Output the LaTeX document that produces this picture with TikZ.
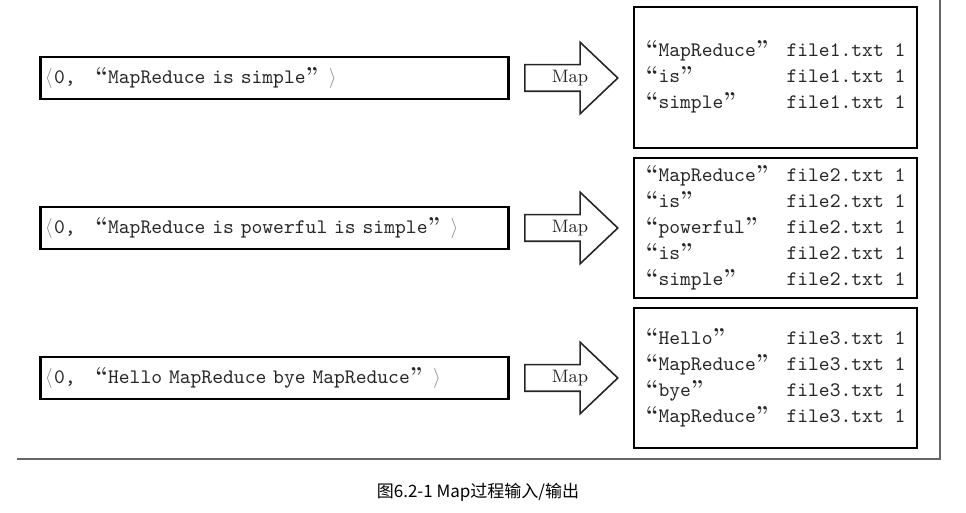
\documentclass[tikz,border=0pt]{standalone}
\usepackage{fontspec}
\setmonofont{Latin Modern Mono}
\newfontfamily\cjk{Noto Sans CJK SC}
\usetikzlibrary{shapes.arrows}

\newcommand{\qfont}{\fontsize{11.5}{13}\selectfont\rmfamily\bfseries}
\newcommand{\oq}{\makebox[6.5pt][r]{\qfont “}}
\newcommand{\cq}{\makebox[6.5pt][l]{\qfont ”}}
\newcommand{\kvin}[1]{\makebox[5.4pt]{\textcolor{black!45}{$\langle$}}0\makebox[10.8pt][l]{,}\makebox[10.8pt][r]{\qfont “}#1\makebox[10.8pt][l]{\qfont ”}\makebox[5.4pt]{\textcolor{black!45}{$\rangle$}}}

\tikzset{
  inbox/.style={rectangle, draw=black, line width=1.3pt, anchor=west,
    minimum width=234pt, minimum height=21pt, text width=231pt, inner xsep=1.5pt,
    align=left, font=\fontsize{10.3}{13}\selectfont\ttfamily, text=black!85},
  outbox/.style={rectangle, draw=black, line width=1.3pt, minimum width=141.5pt,
    inner sep=0pt, font=\fontsize{10.3}{13}\selectfont\ttfamily, text=black!85},
  maparrow/.style={single arrow, draw=black!85, line width=0.8pt, anchor=tail,
    minimum height=46.5pt, single arrow head extend=11.25pt,
    single arrow tip angle=87, inner xsep=0pt, inner ysep=6.25pt},
  maplabel/.style={font=\fontsize{9}{10}\selectfont\rmfamily, text=black!85, inner sep=0pt},
  caption/.style={font=\fontsize{8.5}{10}\selectfont\cjk, text=black, inner sep=0pt},
  shadowline/.style={draw=black!60, line width=1.4pt}
}

\begin{document}
\begin{tikzpicture}[x=0.5pt,y=-0.5pt]
  \useasboundingbox (0,0) rectangle (966,513);

  % frame shadow
  \draw[shadowline] (17,459) -- (940,459) -- (940,0);

  % file1
  \node[inbox] (in1) at (39,78) {\kvin{MapReduce is simple}};
  \node[maparrow] (arr1) at (524,78) {};
  \node[maplabel] (lbl1) at (570,78) {Map};
  \node[outbox, minimum height=70.5pt] (out1) at (775.5,77.5) {%
    \begin{tabular}{@{}p{70.5pt}@{}l@{}}
      \oq MapReduce\cq & file1.txt 1\\
      \oq is\cq        & file1.txt 1\\
      \oq simple\cq    & file1.txt 1
    \end{tabular}};

  % file2
  \node[inbox] (in2) at (39,228) {\kvin{MapReduce is powerful is simple}};
  \node[maparrow] (arr2) at (524,228) {};
  \node[maplabel] (lbl2) at (570,228) {Map};
  \node[outbox, minimum height=70pt] (out2) at (775.5,228) {%
    \begin{tabular}{@{}p{70.5pt}@{}l@{}}
      \oq MapReduce\cq & file2.txt 1\\
      \oq is\cq        & file2.txt 1\\
      \oq powerful\cq  & file2.txt 1\\
      \oq is\cq        & file2.txt 1\\
      \oq simple\cq    & file2.txt 1
    \end{tabular}};

  % file3
  \node[inbox] (in3) at (39,378) {\kvin{Hello MapReduce bye MapReduce}};
  \node[maparrow] (arr3) at (524,378) {};
  \node[maplabel] (lbl3) at (570,378) {Map};
  \node[outbox, minimum height=70pt] (out3) at (775.5,378) {%
    \begin{tabular}{@{}p{70.5pt}@{}l@{}}
      \oq Hello\cq     & file3.txt 1\\
      \oq MapReduce\cq & file3.txt 1\\
      \oq bye\cq       & file3.txt 1\\
      \oq MapReduce\cq & file3.txt 1
    \end{tabular}};

  % caption
  \node[caption] (cap) at (478,492) {图6.2-1 Map过程输入/输出};
\end{tikzpicture}
\end{document}
